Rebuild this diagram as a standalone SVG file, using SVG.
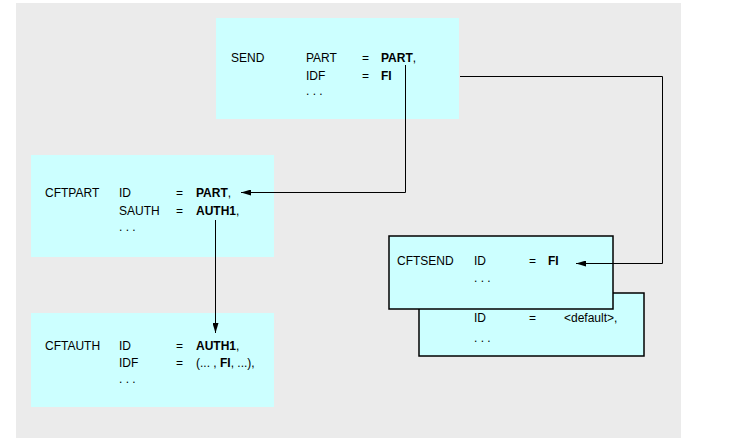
<svg xmlns="http://www.w3.org/2000/svg" width="729" height="440" viewBox="0 0 729 440">
<style>
.box{fill:#CCFFFF}
.bord{stroke:#000;stroke-width:1.5}
text{font-family:"Liberation Sans",Arial,sans-serif;font-size:12px;fill:#000}
.b{font-weight:bold}
.ln{fill:none;stroke:#000;stroke-width:1}
</style>
<defs>
<marker id="ah" viewBox="0 0 10 6" refX="10" refY="3" markerWidth="10" markerHeight="6" markerUnits="userSpaceOnUse" orient="auto">
<path d="M0,0 L10,3 L0,6 z" fill="#000"/>
</marker>
</defs>
<rect x="0" y="0" width="729" height="440" fill="#fff"/>
<rect x="16" y="3" width="665" height="435" fill="#EBEBEB"/>
<g id="send">
<rect class="box" x="216" y="18" width="243" height="101"/>
<text x="231" y="62">SEND</text>
<text x="306" y="62">PART</text><text x="362" y="62">=</text><text x="381" y="62"><tspan class="b">PART</tspan>,</text>
<text x="306" y="80">IDF</text><text x="362" y="80">=</text><text x="381" y="80" class="b">FI</text>
<text x="306" y="95">. . .</text>
</g>
<g id="cftpart">
<rect class="box" x="31" y="155" width="243" height="102"/>
<text x="45" y="197">CFTPART</text>
<text x="119" y="197">ID</text><text x="176" y="197">=</text><text x="196" y="197"><tspan class="b">PART</tspan>,</text>
<text x="119" y="215">SAUTH</text><text x="176" y="215">=</text><text x="196" y="215"><tspan class="b">AUTH1</tspan>,</text>
<text x="119" y="231">. . .</text>
</g>
<g id="cftauth">
<rect class="box" x="31" y="313" width="243" height="94"/>
<text x="45" y="350">CFTAUTH</text>
<text x="119" y="350">ID</text><text x="176" y="350">=</text><text x="196" y="350"><tspan class="b">AUTH1</tspan>,</text>
<text x="119" y="367">IDF</text><text x="176" y="367">=</text><text x="196" y="367">(... , <tspan class="b">FI</tspan>, ...),</text>
<text x="119" y="383">. . .</text>
</g>
<g id="cftsend-default">
<rect class="box bord" x="419" y="293" width="225" height="63"/>
<text x="474" y="322">ID</text><text x="529" y="322">=</text><text x="564" y="322">&lt;default&gt;,</text>
<text x="474" y="342">. . .</text>
</g>
<g id="cftsend">
<rect class="box bord" x="389" y="236" width="224" height="73"/>
<text x="397" y="265">CFTSEND</text>
<text x="474" y="265">ID</text><text x="529" y="265">=</text><text x="548" y="265" class="b">FI</text>
<text x="474" y="282">. . .</text>
</g>
<g id="connectors">
<polyline class="ln" points="405.5,65 405.5,192.5 241,192.5" marker-end="url(#ah)"/>
<polyline class="ln" points="460,76.5 662.5,76.5 662.5,263.5 576,263.5" marker-end="url(#ah)"/>
<polyline class="ln" points="215.5,220 215.5,333" marker-end="url(#ah)"/>
</g>
</svg>
